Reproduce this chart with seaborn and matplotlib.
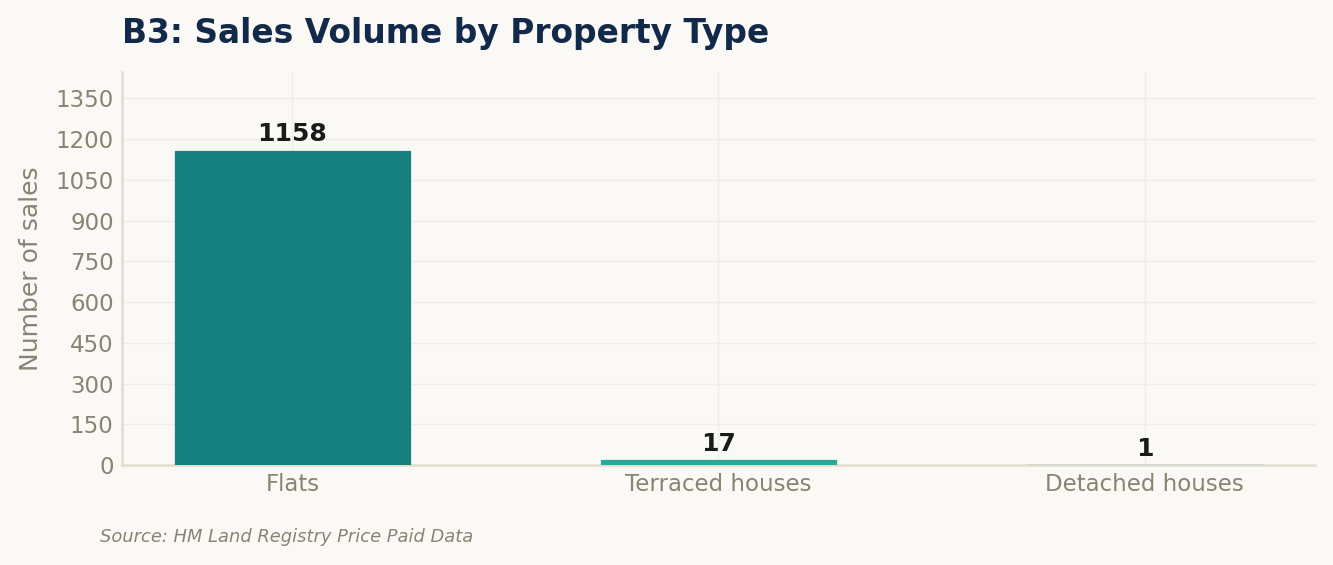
import matplotlib
matplotlib.use("Agg")
import matplotlib.pyplot as plt
import seaborn as sns
import pandas as pd

# Data
property_types = ["Flats", "Terraced houses", "Detached houses"]
sales_counts = [1158, 17, 1]
bar_colors = ["#167F80", "#2AA89A", "#2A9FD6"]
y_ticks = [0, 150, 300, 450, 600, 750, 900, 1050, 1200, 1350]

df = pd.DataFrame({"type": property_types, "sales": sales_counts})

bg = "#FAF9F5"
grey = "#8A8373"

sns.set_theme(style="white")
plt.rcParams["font.family"] = ["DejaVu Sans"]

fig = plt.figure(figsize=(1333 / 150, 565 / 150), dpi=150, facecolor=bg)
ax = fig.add_axes([0.0915, 0.177, 0.895, 0.6956])
ax.set_facecolor(bg)

sns.barplot(
    data=df,
    x="type",
    y="sales",
    hue="type",
    palette=bar_colors,
    saturation=1,
    width=0.55,
    linewidth=0,
    legend=False,
    ax=ax,
)

# thin edge in bar colour so the tiny bar still shows, drawn over the spine
for p in ax.patches:
    p.set_edgecolor(p.get_facecolor())
    p.set_linewidth(0.6)
    p.set_zorder(3)

# Value labels
for i, v in enumerate(sales_counts):
    ax.annotate(
        str(v),
        xy=(i, v),
        xytext=(0, 2),
        textcoords="offset points",
        ha="center",
        va="bottom",
        fontsize=12,
        fontweight="bold",
        color="#1A1A1A",
    )

ax.set_xlim(-0.4, 2.4)
ax.set_ylim(0, max(sales_counts) * 1.25)
ax.set_yticks(y_ticks)

ax.grid(True, color="#F0EDE6", linewidth=0.7)
ax.set_axisbelow(True)

for side in ["top", "right"]:
    ax.spines[side].set_visible(False)
for side in ["left", "bottom"]:
    ax.spines[side].set_color("#E2DDCF")
    ax.spines[side].set_linewidth(1.2)

ax.tick_params(axis="both", labelsize=11, colors=grey, length=0, pad=4)
ax.set_xlabel("")
ax.set_ylabel("Number of sales", fontsize=12, color=grey, labelpad=6)

ax.set_title(
    "B3: Sales Volume by Property Type",
    loc="left",
    fontsize=15.8,
    fontweight="bold",
    color="#12294A",
    pad=14,
)

fig.text(
    0.075,
    0.05,
    "Source: HM Land Registry Price Paid Data",
    fontsize=8.6,
    style="italic",
    color=grey,
    va="center",
)

fig.savefig("out.png", dpi=150, facecolor=bg)
